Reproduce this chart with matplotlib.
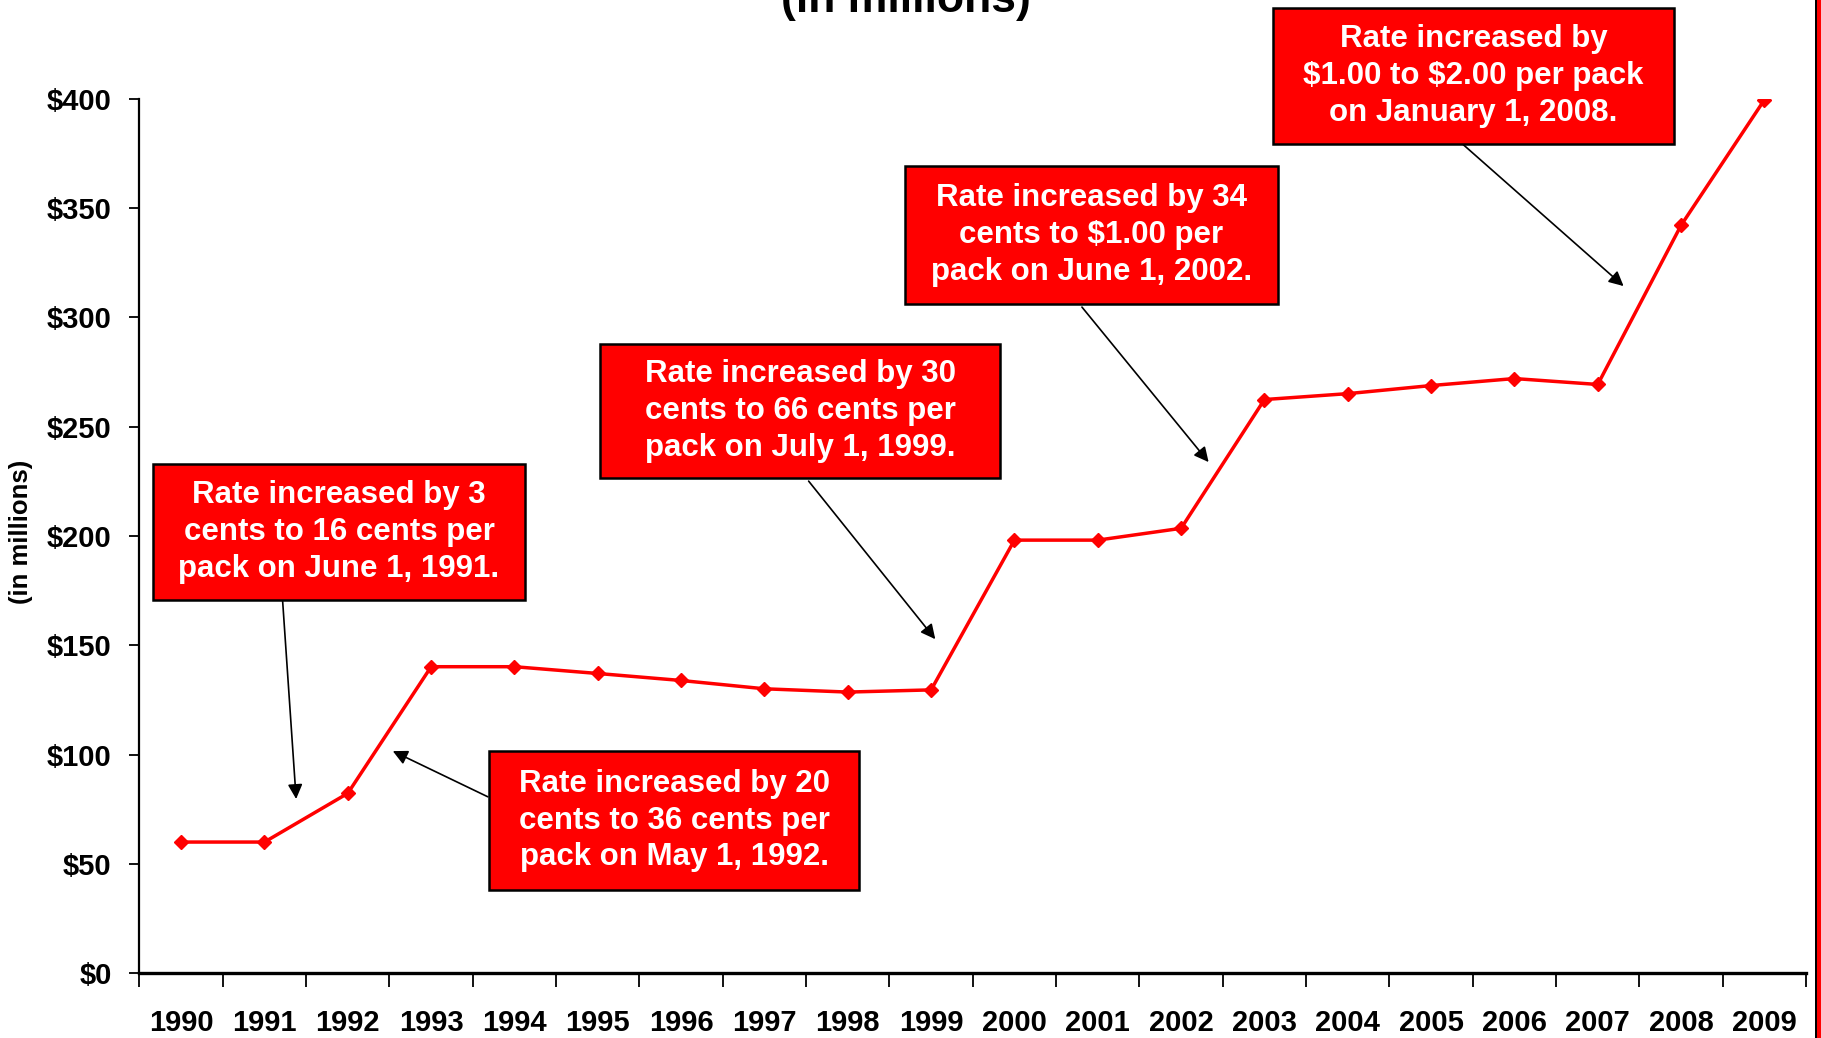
import matplotlib.pyplot as plt
from matplotlib.patches import Rectangle

plt.rcParams['font.family'] = ['Liberation Sans', 'DejaVu Sans']

years = [str(y) for y in range(1990, 2010)]
revenue = [60.0, 60.0, 82.3, 140.2, 140.2, 137.1, 133.9, 130.1, 128.6, 129.6,
           198.1, 198.1, 203.5, 262.4, 265.1, 268.8, 272.0, 269.3, 342.1, 399.5]
yticks = [0, 50, 100, 150, 200, 250, 300, 350, 400]

notes = [
    "Rate increased by 3\ncents to 16 cents per\npack on June 1, 1991.",
    "Rate increased by 20\ncents to 36 cents per\npack on May 1, 1992.",
    "Rate increased by 30\ncents to 66 cents per\npack on July 1, 1999.",
    "Rate increased by 34\ncents to \\$1.00 per\npack on June 1, 2002.",
    "Rate increased by\n\\$1.00 to \\$2.00 per pack\non January 1, 2008.",
]
# box extents (x0, x1, y0, y1) and arrow tail/head, in data units
note_boxes = [(-0.34, 4.13, 170.7, 232.9), (3.70, 8.14, 38.1, 101.6),
              (5.03, 9.83, 226.5, 287.8), (8.69, 13.16, 306.1, 369.2),
              (13.10, 17.92, 379.3, 441.5)]
note_tails = [(1.19, 185.8), (3.68, 80.7), (7.53, 225.1), (10.81, 304.7), (15.38, 379.2)]
note_heads = [(1.38, 79.7), (2.54, 101.6), (9.05, 152.8), (12.33, 233.8), (17.31, 314.3)]

fig = plt.figure(figsize=(18.21, 10.38), dpi=100)
ax = fig.add_axes([0.0766, 0.0624, 0.9152, 0.8425])

x = list(range(len(years)))
ax.plot(x, revenue, color='#ff0000', lw=2.5, marker='D', ms=6.8, zorder=3)

ax.set_xlim(-0.5, len(years) - 0.5)
ax.set_ylim(0, 400)
ax.set_yticks(yticks)
ax.set_yticklabels(['\\${}'.format(v) for v in yticks], fontsize=21, fontweight='bold')
ax.tick_params(axis='y', length=7, width=1.3, pad=13)

ax.set_xticks([i - 0.5 for i in range(len(years) + 1)])
ax.set_xticklabels([])
ax.set_xticks(x, minor=True)
ax.set_xticklabels(years, minor=True, fontsize=21, fontweight='bold')
ax.tick_params(axis='x', which='major', length=10, width=1.3, direction='out')
ax.tick_params(axis='x', which='minor', length=0, pad=26)

for s in ['top', 'right']:
    ax.spines[s].set_visible(False)
ax.spines['left'].set_linewidth(1.6)
ax.spines['bottom'].set_linewidth(2.4)

fig.text(0.0115, 0.488, '(in millions)', rotation=90, ha='center', va='center',
         fontsize=18.5, fontweight='bold')
fig.text(0.4975, 0.988, '(in millions)', ha='center', va='baseline', fontsize=32, fontweight='bold')

for txt, (x0, x1, y0, y1), tail, head in zip(notes, note_boxes, note_tails, note_heads):
    ax.add_patch(Rectangle((x0, y0), x1 - x0, y1 - y0, facecolor='#ff0000', edgecolor='black',
                           lw=1.8, clip_on=False, zorder=4))
    ax.text((x0 + x1) / 2, (y0 + y1) / 2, txt, ha='center', va='center', color='white',
            fontsize=22.5, fontweight='bold', linespacing=1.3, clip_on=False, zorder=5)
    ax.annotate('', xy=head, xytext=tail, annotation_clip=False,
                arrowprops=dict(arrowstyle='-|>', color='black', lw=1.2, mutation_scale=22,
                                shrinkA=0, shrinkB=0))

# red frame edge at the right side of the picture
fig.patches.append(Rectangle((0.9973, 0), 0.0027, 1, transform=fig.transFigure,
                             facecolor='#ff0000', edgecolor='none'))
fig.patches.append(Rectangle((0.9965, 0), 0.0011, 1, transform=fig.transFigure,
                             facecolor='black', edgecolor='none'))

fig.savefig('out.png', dpi=100)
